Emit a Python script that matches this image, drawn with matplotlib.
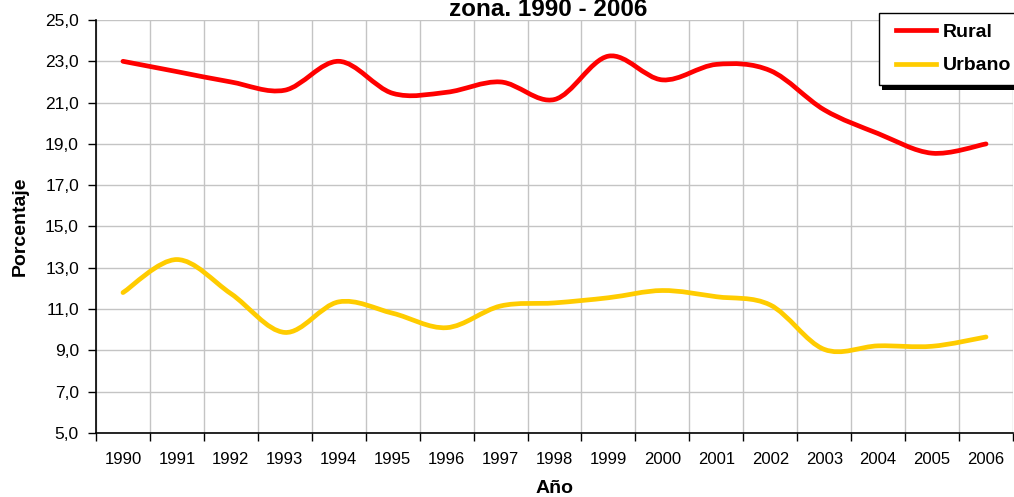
import matplotlib
matplotlib.use("Agg")
import matplotlib.pyplot as plt
from matplotlib.path import Path
from matplotlib.patches import PathPatch, Rectangle
from matplotlib.lines import Line2D
from matplotlib.legend_handler import HandlerLine2D
from matplotlib.transforms import IdentityTransform
import numpy as np

# Data
years = [str(y) for y in range(1990, 2007)]
rural = [23.0, 22.5, 22.0, 21.6, 23.0, 21.45, 21.5, 22.0, 21.15, 23.25,
         22.1, 22.85, 22.55, 20.65, 19.5, 18.55, 19.0]
urbano = [11.8, 13.4, 11.75, 9.87, 11.35, 10.8, 10.1, 11.15, 11.3, 11.55,
          11.9, 11.6, 11.2, 9.05, 9.22, 9.2, 9.65]
y_ticks = np.arange(5, 26, 2)

plt.rcParams['font.family'] = ['Liberation Sans', 'DejaVu Sans']


def smooth_path(xs, ys):
    # Excel-like smoothed line: cubic Bezier segments, Catmull-Rom tangents
    pts = np.column_stack([xs, ys]).astype(float)
    verts = [pts[0]]
    codes = [Path.MOVETO]
    n = len(pts)
    for i in range(n - 1):
        p0 = pts[i - 1] if i > 0 else pts[i]
        p1, p2 = pts[i], pts[i + 1]
        p3 = pts[i + 2] if i + 2 < n else pts[i + 1]
        verts += [p1 + (p2 - p0) / 6, p2 - (p3 - p1) / 6, p2]
        codes += [Path.CURVE4] * 3
    return Path(verts, codes)


fig = plt.figure(figsize=(10.14, 4.97), dpi=100)
ax = fig.add_axes([96 / 1014, 1 - 433 / 497, 917 / 1014, 413 / 497])

x = np.arange(len(years))
series = [(rural, '#FF0000', 'Rural'), (urbano, '#FFCC00', 'Urbano')]
handles = []
for vals, col, lab in series:
    patch = PathPatch(smooth_path(x, vals), fill=False, edgecolor=col,
                      linewidth=3.4, capstyle='round', joinstyle='round', zorder=3)
    ax.add_patch(patch)
    handles.append(Line2D([], [], color=col, linewidth=3.4, label=lab))

ax.set_xlim(-0.5, len(years) - 0.5)
ax.set_ylim(5, 25)

# category boundaries carry the ticks/grid, labels sit in between
ax.set_xticks(np.arange(-0.5, len(years), 1))
ax.set_xticklabels([])
ax.set_xticks(x, minor=True)
ax.set_xticklabels(years, minor=True, fontsize=12)
ax.tick_params(axis='x', which='minor', length=0, pad=14)
ax.tick_params(axis='x', which='major', length=5.5, width=1, direction='out')
ax.set_yticks(y_ticks)
ax.set_yticklabels([f'{v:.1f}'.replace('.', ',') for v in y_ticks], fontsize=12.5)
ax.tick_params(axis='y', length=5.8, width=1, direction='out', pad=6.5)

ax.grid(True, which='major', color='#C4C4C4', linewidth=1)
ax.set_axisbelow(True)
for s in ['top', 'right']:
    ax.spines[s].set_visible(False)
ax.spines['left'].set_linewidth(1.2)
ax.spines['bottom'].set_linewidth(1.2)

ax.set_ylabel('Porcentaje', fontsize=14, fontweight='bold')
ax.yaxis.set_label_coords(-0.073, 0.5)
ax.set_xlabel('Año', fontsize=14, fontweight='bold')
ax.xaxis.set_label_coords(0.5, -0.113)

fig.text(0.541, 1 - 16 / 497, 'zona. 1990 - 2006', fontsize=17.5,
         fontweight='bold', ha='center', va='baseline')

leg = ax.legend(handles=handles, loc='upper left',
                bbox_to_anchor=(879 / 1014, 1 - 13 / 497),
                bbox_transform=fig.transFigure, borderaxespad=0,
                prop={'weight': 'bold', 'size': 14}, frameon=True,
                fancybox=False, edgecolor='black', framealpha=1,
                handlelength=2.7, handletextpad=0.05, labelspacing=0.8,
                borderpad=0.55,
                handler_map={Line2D: HandlerLine2D(numpoints=2, marker_pad=0.33)})
leg.get_frame().set_linewidth(1)
leg.set_zorder(6)

# solid black drop shadow behind the legend box
fig.canvas.draw()
bb = leg.get_frame().get_window_extent()
ax.add_patch(Rectangle((bb.x0 + 3, bb.y0 - 5), bb.width, bb.height,
                       transform=IdentityTransform(), facecolor='black',
                       edgecolor='none', clip_on=False, zorder=5))

fig.savefig('out.png', dpi=100)
